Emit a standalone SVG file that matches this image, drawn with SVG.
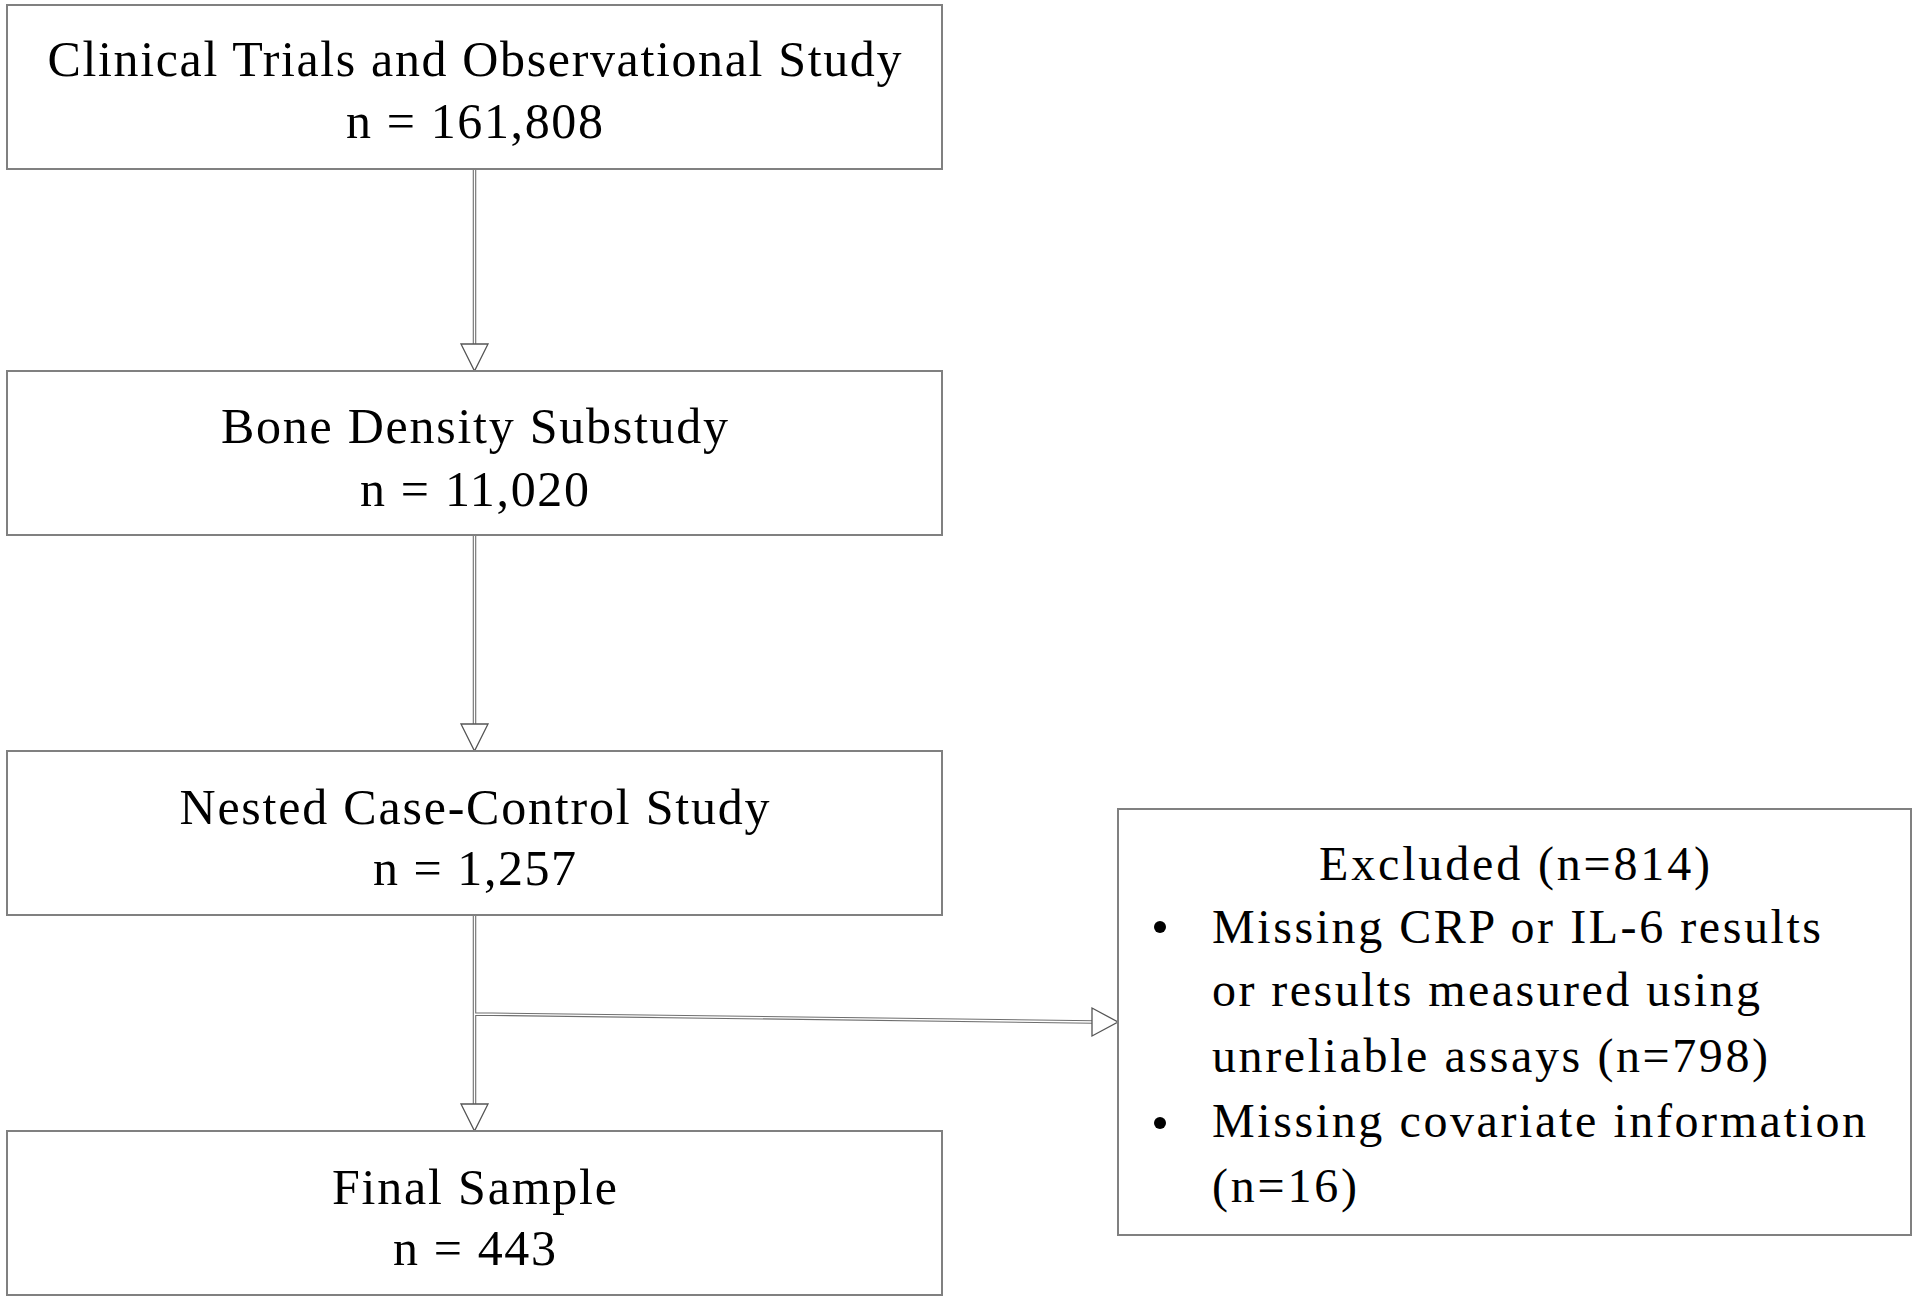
<svg xmlns="http://www.w3.org/2000/svg" width="1920" height="1299" viewBox="0 0 1920 1299">
<style>
.box{fill:#fff;stroke:#808080;stroke-width:2}
.t{font-family:"Liberation Serif","Times New Roman",serif;font-size:50px;fill:#000;text-anchor:middle}
.te{font-family:"Liberation Serif","Times New Roman",serif;font-size:48px;fill:#000}
.lo{fill:none;stroke:#6e6e6e;stroke-width:3.5}
.li{fill:none;stroke:#fff;stroke-width:1.3}
.ah{fill:#fff;stroke:#555;stroke-width:1.3}
</style>
<rect width="1920" height="1299" fill="#fff"/>
<g id="connectors">
<path class="lo" d="M474.5,169V348M474.5,535V728M474.5,915V1108M474.5,1014L1094,1022"/>
<path class="li" d="M474.5,169V348M474.5,535V728M474.5,915V1108M474.5,1014L1094,1022"/>
<polygon class="ah" points="461,344 488,344 474.5,371"/>
<polygon class="ah" points="461,724 488,724 474.5,751"/>
<polygon class="ah" points="461,1104 488,1104 474.5,1131"/>
<polygon class="ah" points="1092,1008 1092,1036 1118,1022"/>
</g>
<g id="node1">
<rect class="box" x="7" y="5" width="935" height="164"/>
<text class="t" x="474.5" y="76" textLength="854" lengthAdjust="spacing">Clinical Trials and Observational Study</text>
<text class="t" x="474.5" y="138" textLength="257" lengthAdjust="spacing">n = 161,808</text>
</g>
<g id="node2">
<rect class="box" x="7" y="371" width="935" height="164"/>
<text class="t" x="474.5" y="443" textLength="507" lengthAdjust="spacing">Bone Density Substudy</text>
<text class="t" x="474.5" y="506" textLength="229" lengthAdjust="spacing">n = 11,020</text>
</g>
<g id="node3">
<rect class="box" x="7" y="751" width="935" height="164"/>
<text class="t" x="474.5" y="824" textLength="590" lengthAdjust="spacing">Nested Case-Control Study</text>
<text class="t" x="474.5" y="885" textLength="203" lengthAdjust="spacing">n = 1,257</text>
</g>
<g id="node4">
<rect class="box" x="7" y="1131" width="935" height="164"/>
<text class="t" x="474.5" y="1204" textLength="285" lengthAdjust="spacing">Final Sample</text>
<text class="t" x="474.5" y="1265" textLength="163" lengthAdjust="spacing">n = 443</text>
</g>
<g id="excluded">
<rect class="box" x="1118" y="809" width="793" height="426"/>
<text class="te" x="1319" y="880" textLength="391" lengthAdjust="spacing">Excluded (n=814)</text>
<circle cx="1160" cy="927" r="6" fill="#000"/>
<text class="te" x="1212" y="943" textLength="609" lengthAdjust="spacing">Missing CRP or IL-6 results</text>
<text class="te" x="1212" y="1006" textLength="548" lengthAdjust="spacing">or results measured using</text>
<text class="te" x="1212" y="1072" textLength="556" lengthAdjust="spacing">unreliable assays (n=798)</text>
<circle cx="1160" cy="1123" r="6" fill="#000"/>
<text class="te" x="1212" y="1137" textLength="654" lengthAdjust="spacing">Missing covariate information</text>
<text class="te" x="1212" y="1202" textLength="145" lengthAdjust="spacing">(n=16)</text>
</g>
</svg>
